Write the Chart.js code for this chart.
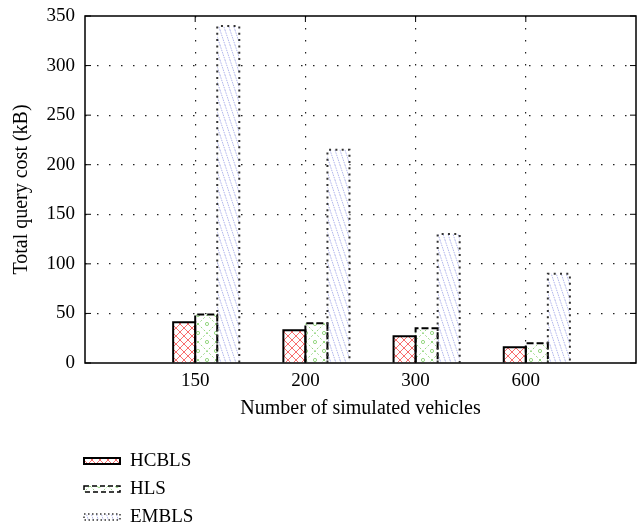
<!DOCTYPE html>
<html><head><meta charset="utf-8">
<script src="https://cdn.jsdelivr.net/npm/chart.js@4.4.0/dist/chart.umd.min.js"></script>
<style>html,body{margin:0;padding:0;background:#fff;}#wrap{position:relative;width:640px;height:529px;}</style>
</head><body><div id="wrap"><canvas id="c" width="640" height="529"></canvas></div>
<script>
// ---- data ----
const categories = ['150', '200', '300', '600'];
const seriesNames = ['HCBLS', 'HLS', 'EMBLS'];
const hcbls = [41, 33, 27, 16];
const hls = [49, 40, 35, 20];
const embls = [340, 215, 130, 90];
const yTicks = [0, 50, 100, 150, 200, 250, 300, 350];
const xAxisTitle = 'Number of simulated vehicles';
const yAxisTitle = 'Total query cost (kB)';

// ---- styling helpers ----
const FONT = '"Liberation Serif", "DejaVu Serif", serif';
function makePattern(w, h, draw) {
  const c = document.createElement('canvas');
  c.width = w; c.height = h;
  const g = c.getContext('2d');
  g.fillStyle = '#fff'; g.fillRect(0, 0, w, h);
  draw(g, w, h);
  return g.createPattern(c, 'repeat');
}
const patHC = makePattern(8, 8, (g, w, h) => {
  g.strokeStyle = 'rgb(248,110,110)'; g.lineWidth = 1;
  g.beginPath();
  g.moveTo(-1, -1); g.lineTo(w + 1, h + 1);
  g.moveTo(w + 1, -1); g.lineTo(-1, h + 1);
  g.stroke();
});
const patHL = makePattern(18, 18, (g, w, h) => {
  g.strokeStyle = 'rgb(150,215,130)'; g.lineWidth = 1;
  g.setLineDash([2, 2]);
  g.beginPath();
  g.moveTo(0, 0); g.lineTo(w, h);
  g.moveTo(w, 0); g.lineTo(0, h);
  g.stroke();
  g.setLineDash([]);
  [[w / 2, 0], [0, h / 2], [w, h / 2], [w / 2, h]].forEach(([x, y]) => {
    g.beginPath(); g.arc(x, y, 1.6, 0, Math.PI * 2); g.stroke();
  });
});
const patEM = makePattern(5, 15, (g, w, h) => {
  g.strokeStyle = 'rgb(175,180,235)'; g.lineWidth = 1;
  g.setLineDash([1.5, 1]);
  g.beginPath();
  [-w, 0, w].forEach(x0 => { g.moveTo(x0, 0); g.lineTo(x0 + w, h); });
  g.stroke();
});
const outlineStyles = [
  { dash: [], width: 2, color: '#000' },
  { dash: [7, 3], width: 2, color: '#000' },
  { dash: [2, 4.3], width: 2, color: '#333' }
];
const patterns = [patHC, patHL, patEM];

const xLabels = ['', ...categories, ''];
const pad = arr => [null, ...arr, null];
const seriesValues = [hcbls, hls, embls];

const datasets = [{ label: 'gap', data: pad(categories.map(() => null)), backgroundColor: 'rgba(0,0,0,0)', borderWidth: 0 }];
seriesNames.forEach((name, i) => {
  datasets.push({ label: name, data: pad(seriesValues[i]), backgroundColor: patterns[i], borderWidth: 0, _style: outlineStyles[i] });
});

const decorPlugin = {
  id: 'decor',
  afterDatasetsDraw(chart) {
    const ctx = chart.ctx;
    const ca = chart.chartArea;
    chart.data.datasets.forEach((ds, di) => {
      if (!ds._style) return;
      const meta = chart.getDatasetMeta(di);
      const st = ds._style;
      meta.data.forEach((el, idx) => {
        if (ds.data[idx] == null) return;
        const p = el.getProps(['x', 'y', 'base', 'width'], true);
        const l = p.x - p.width / 2, r = p.x + p.width / 2;
        ctx.save();
        ctx.strokeStyle = st.color; ctx.lineWidth = st.width; ctx.setLineDash(st.dash);
        ctx.beginPath();
        ctx.moveTo(l, p.base); ctx.lineTo(l, p.y); ctx.lineTo(r, p.y); ctx.lineTo(r, p.base);
        ctx.stroke();
        ctx.restore();
      });
    });
    ctx.save();
    ctx.strokeStyle = '#000'; ctx.lineWidth = 1.5; ctx.setLineDash([]);
    ctx.strokeRect(ca.left, ca.top, ca.right - ca.left, ca.bottom - ca.top);
    ctx.lineWidth = 1;
    const ys = chart.scales.y, xs = chart.scales.x;
    ys.ticks.forEach(t => {
      const py = ys.getPixelForValue(t.value);
      ctx.beginPath();
      ctx.moveTo(ca.left, py); ctx.lineTo(ca.left + 6, py);
      ctx.moveTo(ca.right, py); ctx.lineTo(ca.right - 6, py);
      ctx.stroke();
    });
    categories.forEach((c, i) => {
      const px = xs.getPixelForValue(i + 1);
      ctx.beginPath();
      ctx.moveTo(px, ca.bottom); ctx.lineTo(px, ca.bottom - 6);
      ctx.moveTo(px, ca.top); ctx.lineTo(px, ca.top + 6);
      ctx.stroke();
    });
    ctx.restore();
  },
  afterDraw(chart) {
    const ctx = chart.ctx;
    const rowY = [461, 489, 517];
    seriesNames.forEach((name, i) => {
      const y = rowY[i];
      const x0 = 84, w = 36, h = 6;
      ctx.save();
      ctx.fillStyle = patterns[i];
      ctx.fillRect(x0, y - h / 2, w, h);
      const st = outlineStyles[i];
      ctx.strokeStyle = st.color; ctx.lineWidth = i === 0 ? 2 : 1.5; ctx.setLineDash(i === 1 ? [5, 3] : (i === 2 ? [1.5, 2.5] : []));
      ctx.strokeRect(x0, y - h / 2, w, h);
      ctx.restore();
      ctx.save();
      ctx.fillStyle = '#000';
      ctx.font = '19px ' + FONT;
      ctx.textBaseline = 'middle';
      ctx.fillText(name, 130, y);
      ctx.restore();
    });
  }
};

new Chart(document.getElementById('c'), {
  type: 'bar',
  data: { labels: xLabels, datasets },
  plugins: [decorPlugin],
  options: {
    responsive: false,
    animation: false,
    layout: { padding: { top: 16, right: 4, left: 0, bottom: 100 } },
    datasets: { bar: { categoryPercentage: 0.8, barPercentage: 1.0 } },
    plugins: { legend: { display: false }, tooltip: { enabled: false } },
    scales: {
      x: {
        offset: false,
        afterFit: s => { s.height = 66; s.paddingLeft = 0; s.paddingRight = 0; },
        grid: {
          offset: false, drawTicks: false, lineWidth: 1.2,
          color: c => (c.index === 0 || c.index === xLabels.length - 1) ? 'rgba(0,0,0,0)' : '#222'
        },
        border: { display: false, dash: [1.5, 10.5] },
        ticks: { color: '#000', font: { family: FONT, size: 19 }, padding: 7, maxRotation: 0, autoSkip: false },
        title: { display: true, text: xAxisTitle, color: '#000', font: { family: FONT, size: 20 }, padding: { top: 0, bottom: 8 } }
      },
      y: {
        min: yTicks[0], max: yTicks[yTicks.length - 1],
        afterFit: s => { s.width = 85; s.paddingTop = 0; s.paddingBottom = 0; },
        afterBuildTicks: s => { s.ticks = yTicks.map(v => ({ value: v })); },
        grid: {
          drawTicks: false, lineWidth: 1.2,
          color: c => (c.tick && (c.tick.value === yTicks[0] || c.tick.value === yTicks[yTicks.length - 1])) ? 'rgba(0,0,0,0)' : '#222'
        },
        border: { display: false, dash: [1.5, 10.5] },
        ticks: { color: '#000', font: { family: FONT, size: 19 }, padding: 10 },
        title: { display: true, text: yAxisTitle, color: '#000', font: { family: FONT, size: 20 }, padding: { top: 10, bottom: 0 } }
      }
    }
  }
});
</script></body></html>
